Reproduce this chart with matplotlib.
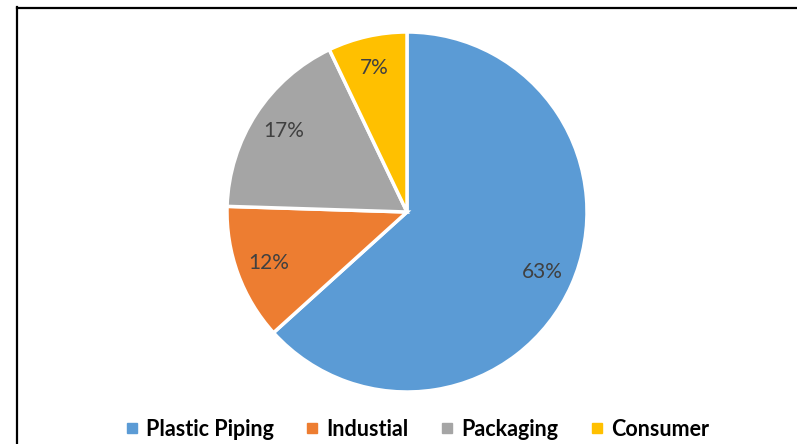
import matplotlib
matplotlib.use("Agg")
import matplotlib.pyplot as plt
from matplotlib.lines import Line2D

plt.rcParams['font.family'] = ['Lato', 'DejaVu Sans']

# market share by end use
segments = ['Plastic Piping', 'Industial', 'Packaging', 'Consumer']
shares = [63.3, 12.2, 17.4, 7.1]
colors = ['#5B9BD5', '#ED7D31', '#A5A5A5', '#FFC000']

W, H = 797, 444
fig = plt.figure(figsize=(W / 100, H / 100), dpi=100)

# pie area in pixels: left 227, top 32, 360 across
ax = fig.add_axes([227 / W, (H - 392) / H, 360 / W, 360 / H])
wedges, texts, autotexts = ax.pie(
    shares, colors=colors, startangle=90, counterclock=False,
    autopct='%1.0f%%', pctdistance=0.82,
    wedgeprops=dict(edgecolor='white', linewidth=2.5),
    textprops=dict(color='#404040', fontsize=15))
ax.set_xlim(-1, 1)
ax.set_ylim(-1, 1)
ax.set_aspect('auto')
ax.axis('off')

# legend row along the bottom
handles = [Line2D([], [], marker='s', linestyle='none', markersize=7,
                  markerfacecolor=c, markeredgecolor=c) for c in colors]
fig.legend(handles, segments, loc='center', bbox_to_anchor=(417 / W, 1 - 429 / H),
           ncol=4, frameon=False, handlelength=0.6, handletextpad=0.35,
           columnspacing=1.5, prop=dict(weight='bold', size=15.5))

# frame lines at top and left
fig.add_artist(Line2D([17 / W, 17 / W], [0, 1 - 7 / H], color='black', lw=1.6))
fig.add_artist(Line2D([17 / W, 1], [1 - 8 / H, 1 - 8 / H], color='black', lw=1.6))

fig.savefig('out.png', dpi=100)
